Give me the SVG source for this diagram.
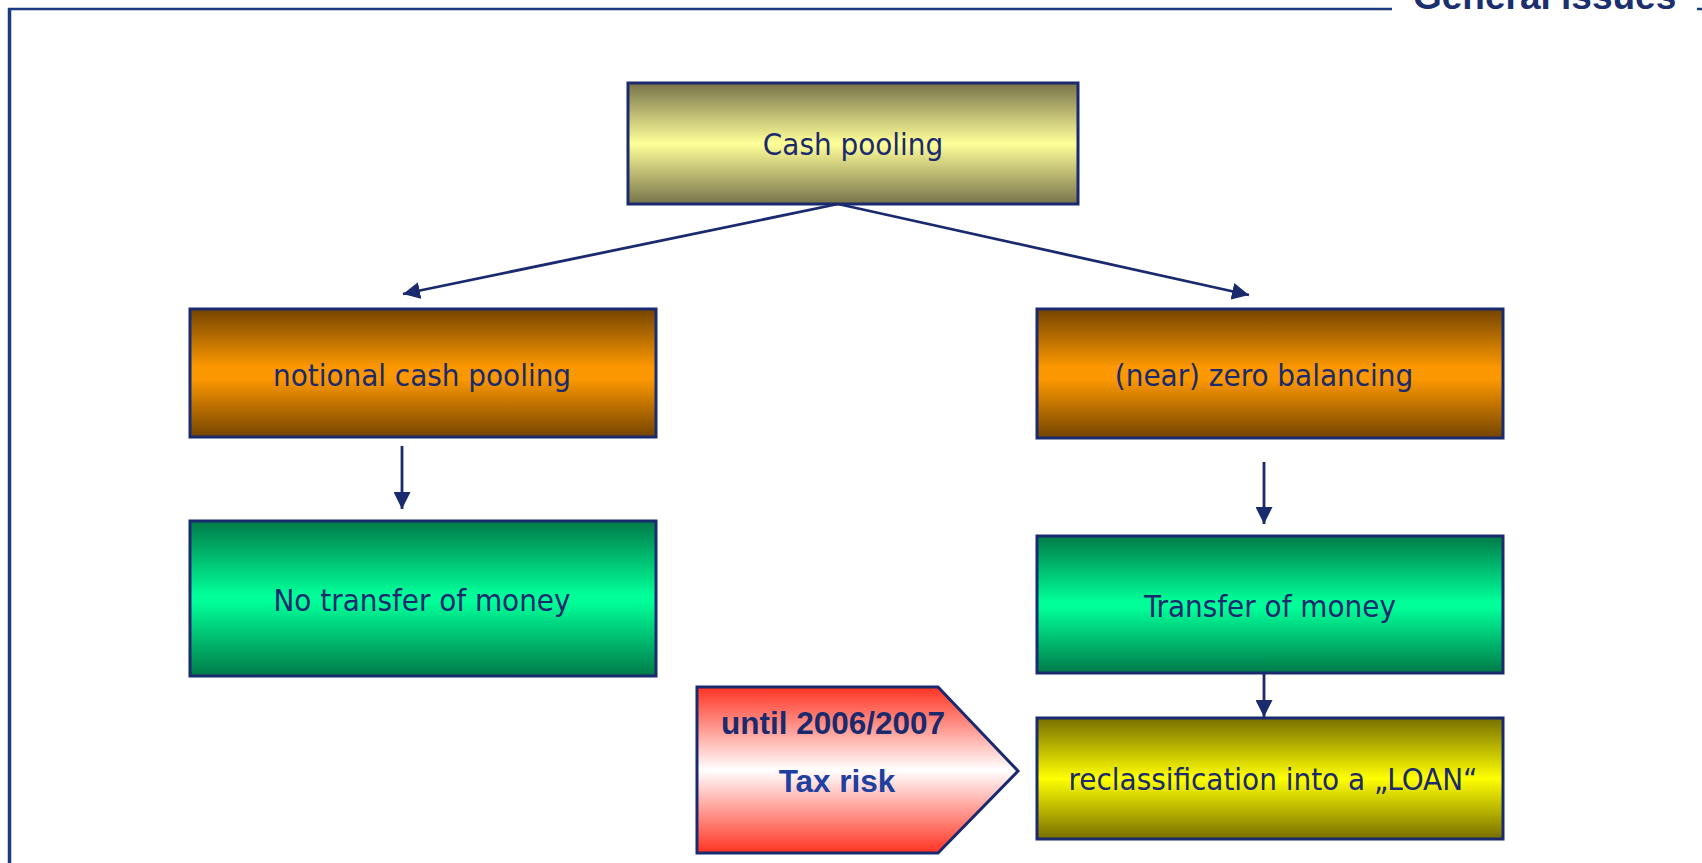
<svg xmlns="http://www.w3.org/2000/svg" width="1702" height="863" viewBox="0 0 1702 863">
  <style>
    .box { stroke: #1a2a6e; stroke-width: 3; }
    .lbl { font-family: "DejaVu Sans Condensed", "DejaVu Sans", sans-serif; font-stretch: condensed; font-size: 31px; fill: #1a2a6c; text-anchor: middle; }
    .bold { font-family: "Liberation Sans", Arial, sans-serif; font-weight: bold; font-size: 31.5px; text-anchor: middle; }
    .conn { stroke: #1a2a6e; stroke-width: 2.8; fill: none; marker-end: url(#arrow); }
    .frame { stroke: #1c3a80; fill: none; }
  </style>
  <defs>
    <marker id="arrow" markerUnits="userSpaceOnUse" markerWidth="17" markerHeight="17" refX="17" refY="8.5" orient="auto" viewBox="0 0 17 17">
      <path d="M0,0 L17,8.5 L0,17 z" fill="#1a2a6e"/>
    </marker>
    <linearGradient id="gYellowPale" x1="0" y1="0" x2="0" y2="1">
      <stop offset="0" stop-color="#77734a"/>
      <stop offset="0.5" stop-color="#ffff99"/>
      <stop offset="1" stop-color="#77734a"/>
    </linearGradient>
    <linearGradient id="gOrange" x1="0" y1="0" x2="0" y2="1">
      <stop offset="0" stop-color="#744400"/>
      <stop offset="0.45" stop-color="#fb9700"/>
      <stop offset="0.55" stop-color="#fb9700"/>
      <stop offset="1" stop-color="#744400"/>
    </linearGradient>
    <linearGradient id="gGreen" x1="0" y1="0" x2="0" y2="1">
      <stop offset="0" stop-color="#007a48"/>
      <stop offset="0.48" stop-color="#00ff99"/>
      <stop offset="0.52" stop-color="#00ff99"/>
      <stop offset="1" stop-color="#007a48"/>
    </linearGradient>
    <linearGradient id="gYellow" x1="0" y1="0" x2="0" y2="1">
      <stop offset="0" stop-color="#776f00"/>
      <stop offset="0.5" stop-color="#ffff00"/>
      <stop offset="1" stop-color="#776f00"/>
    </linearGradient>
    <linearGradient id="gRed" x1="0" y1="0" x2="0" y2="1">
      <stop offset="0" stop-color="#ff3322"/>
      <stop offset="0.5" stop-color="#ffffff"/>
      <stop offset="1" stop-color="#ff3322"/>
    </linearGradient>
  </defs>

  <g id="frame">
    <line class="frame" x1="8" y1="9" x2="1392" y2="9" stroke-width="2.5"/>
    <line class="frame" x1="1697" y1="9" x2="1702" y2="9" stroke-width="2.5"/>
    <line class="frame" x1="9.5" y1="8" x2="9.5" y2="863" stroke-width="3.5"/>
    <text x="1413" y="9" font-family="Liberation Sans, Arial, sans-serif" font-weight="bold" font-size="37" fill="#1b2f6e">General issues</text>
  </g>

  <g id="connectors">
    <line class="conn" x1="838" y1="204" x2="403" y2="294"/>
    <line class="conn" x1="838" y1="204" x2="1249" y2="295"/>
    <line class="conn" x1="402" y1="446" x2="402" y2="509"/>
    <line class="conn" x1="1264" y1="462" x2="1264" y2="524"/>
    <line class="conn" x1="1264" y1="673" x2="1264" y2="717"/>
  </g>

  <g id="cash-pooling">
    <rect class="box" x="628" y="83" width="450" height="121" fill="url(#gYellowPale)"/>
    <text class="lbl" x="853" y="155">Cash pooling</text>
  </g>

  <g id="notional">
    <rect class="box" x="190" y="309" width="466" height="128" fill="url(#gOrange)"/>
    <text class="lbl" x="422" y="386">notional cash pooling</text>
  </g>

  <g id="zero-balancing">
    <rect class="box" x="1037" y="309" width="466" height="129" fill="url(#gOrange)"/>
    <text class="lbl" x="1264" y="386">(near) zero balancing</text>
  </g>

  <g id="no-transfer">
    <rect class="box" x="190" y="521" width="466" height="155" fill="url(#gGreen)"/>
    <text class="lbl" x="422" y="611">No transfer of money</text>
  </g>

  <g id="transfer">
    <rect class="box" x="1037" y="536" width="466" height="137" fill="url(#gGreen)"/>
    <text class="lbl" x="1270" y="617">Transfer of money</text>
  </g>

  <g id="loan">
    <rect class="box" x="1037" y="718" width="466" height="121" fill="url(#gYellow)"/>
    <text class="lbl" x="1273" y="790">reclassification into a „LOAN“</text>
  </g>

  <g id="tax-risk">
    <path class="box" d="M697,687 L938,687 L1018,771 L938,853 L697,853 Z" fill="url(#gRed)" stroke-width="2.5"/>
    <text class="bold" x="833" y="734" fill="#1a2a6c">until 2006/2007</text>
    <text class="bold" x="837" y="792" fill="#2040a0">Tax risk</text>
  </g>
</svg>
